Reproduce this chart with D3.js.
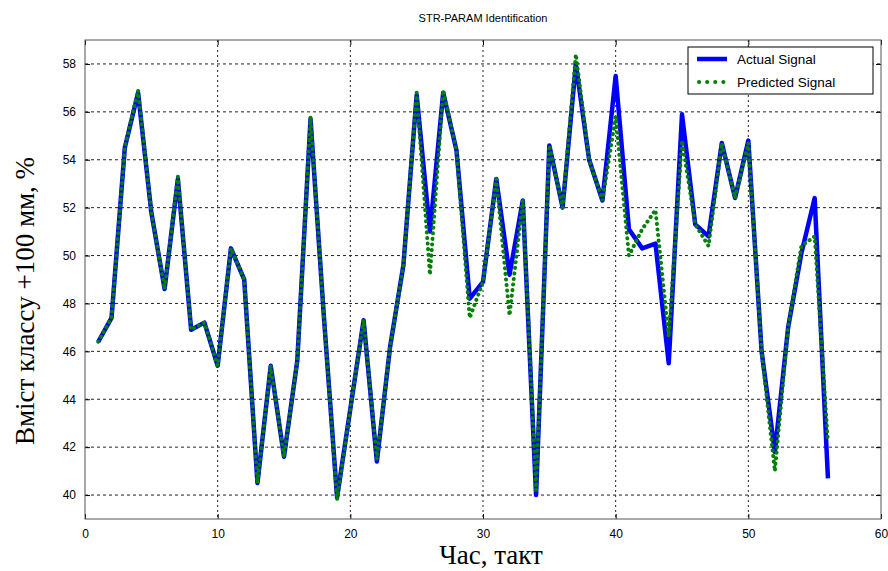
<!DOCTYPE html>
<html><head><meta charset="utf-8">
<script src="https://cdn.jsdelivr.net/npm/d3@7"></script>
<style>body{margin:0;background:#fff}svg{display:block}</style>
</head><body>
<script>
const steps = d3.range(1, 57);
const actual = [46.4,47.4,54.5,56.8,51.8,48.6,53.2,46.9,47.2,45.4,50.3,49.0,40.5,45.4,41.6,45.6,55.7,47.5,39.9,43.6,
  47.3,41.4,46.2,49.6,56.7,51.0,56.8,54.4,48.2,48.9,53.2,49.2,52.3,40.0,54.6,52.0,58.0,54.0,52.3,57.5,
  51.1,50.3,50.5,45.5,55.9,51.3,50.8,54.7,52.4,54.8,46.0,41.8,47.0,50.1,52.4,40.7];
const predicted = [46.4,47.4,54.5,56.9,51.8,48.6,53.3,46.9,47.2,45.4,50.3,49.0,40.5,45.4,41.6,45.6,55.8,47.5,39.8,43.6,
  47.3,41.5,46.2,49.6,56.8,49.2,56.9,54.4,47.4,48.9,53.2,47.5,52.3,40.2,54.6,52.0,58.4,54.0,52.3,55.8,
  50.0,51.1,51.9,46.6,54.8,51.3,50.4,54.7,52.4,54.7,46.0,41.0,47.0,50.4,50.8,42.2];
const xTicks = [0,10,20,30,40,50,60];
const yTicks = [40,42,44,46,48,50,52,54,56,58];
const seriesNames = ["Actual Signal","Predicted Signal"];
const titleText = "STR-PARAM Identification";
const xLabel = "Час, такт";
const yLabel = "Вміст классу +100 мм, %";

const W = 888, H = 571;
const m = {l:85, r:7, t:40, b:52};
const svg = d3.select("body").append("svg").attr("width", W).attr("height", H);
const x = d3.scaleLinear().domain([0,60]).range([m.l, W - m.r]);
const y = d3.scaleLinear().domain([39,59]).range([H - m.b, m.t]);
const pw = W - m.r - m.l, ph = H - m.b - m.t;

svg.append("rect").attr("x", m.l).attr("y", m.t).attr("width", pw).attr("height", ph).attr("fill", "#fff");

// grid
const g = svg.append("g");
g.selectAll(".gx").data(xTicks.slice(1,-1)).join("line")
  .attr("x1", d=>x(d)).attr("x2", d=>x(d)).attr("y1", m.t).attr("y2", H-m.b)
  .attr("stroke", "#222").attr("stroke-width", 1).attr("stroke-dasharray", "2,3");
g.selectAll(".gy").data(yTicks).join("line")
  .attr("x1", m.l).attr("x2", W-m.r).attr("y1", d=>y(d)).attr("y2", d=>y(d))
  .attr("stroke", "#222").attr("stroke-width", 1).attr("stroke-dasharray", "3,3");

// axes
const font = "Arial, 'Liberation Sans', sans-serif";
const xa = svg.append("g").attr("transform", `translate(0,${H-m.b})`)
  .call(d3.axisBottom(x).tickValues(xTicks).tickSize(-5).tickPadding(10).tickFormat(d3.format("d")));
const xt = svg.append("g").attr("transform", `translate(0,${m.t})`)
  .call(d3.axisTop(x).tickValues(xTicks).tickSize(-5).tickFormat(""));
const ya = svg.append("g").attr("transform", `translate(${m.l},0)`)
  .call(d3.axisLeft(y).tickValues(yTicks).tickSize(-5).tickPadding(9).tickFormat(d3.format("d")));
const yr = svg.append("g").attr("transform", `translate(${W-m.r},0)`)
  .call(d3.axisRight(y).tickValues(yTicks).tickSize(-5).tickFormat(""));
[xa,xt,ya,yr].forEach(a=>{
  a.select(".domain").remove();
  a.selectAll("line").attr("stroke","#000");
  a.selectAll("text").attr("font-family", font).attr("font-size", 12).attr("fill","#000");
});

svg.append("rect").attr("x", m.l).attr("y", m.t).attr("width", pw).attr("height", ph)
  .attr("fill", "none").attr("stroke", "#555").attr("stroke-width", 1);

const line = d3.line().x((d,i)=>x(steps[i])).y(d=>y(d));
svg.append("path").datum(actual).attr("d", line).attr("fill","none")
  .attr("stroke","#0000ff").attr("stroke-width",4.5).attr("stroke-linejoin","round");
svg.append("path").datum(predicted).attr("d", line).attr("fill","none")
  .attr("stroke","#008000").attr("stroke-width",4).attr("stroke-linecap","round")
  .attr("stroke-dasharray","0.1,5.5");

// legend
const lg = svg.append("g").attr("transform","translate(688,47)");
lg.append("rect").attr("width",185).attr("height",47).attr("fill","#fff").attr("stroke","#000").attr("stroke-width",1);
lg.append("line").attr("x1",9).attr("x2",39).attr("y1",12).attr("y2",12).attr("stroke","#0000ff").attr("stroke-width",4.5);
lg.append("line").attr("x1",11).attr("x2",39).attr("y1",35).attr("y2",35).attr("stroke","#008000")
  .attr("stroke-width",4).attr("stroke-linecap","round").attr("stroke-dasharray","0.1,8");
lg.selectAll("text").data(seriesNames).join("text")
  .attr("x",49).attr("y",(d,i)=>17+i*23).text(d=>d)
  .attr("font-family",font).attr("font-size",13.5).attr("fill","#000");

svg.append("text").attr("x", 483).attr("y", 22).attr("text-anchor","middle")
  .attr("font-family",font).attr("font-size",11).text(titleText);
svg.append("text").attr("x", 491).attr("y", 564).attr("text-anchor","middle")
  .attr("font-family","'Liberation Serif','Times New Roman',serif").attr("font-size",27).text(xLabel);
svg.append("text").attr("transform","translate(34,301) rotate(-90)").attr("text-anchor","middle")
  .attr("font-family","'Liberation Serif','Times New Roman',serif").attr("font-size",27).text(yLabel);
</script>
</body></html>
